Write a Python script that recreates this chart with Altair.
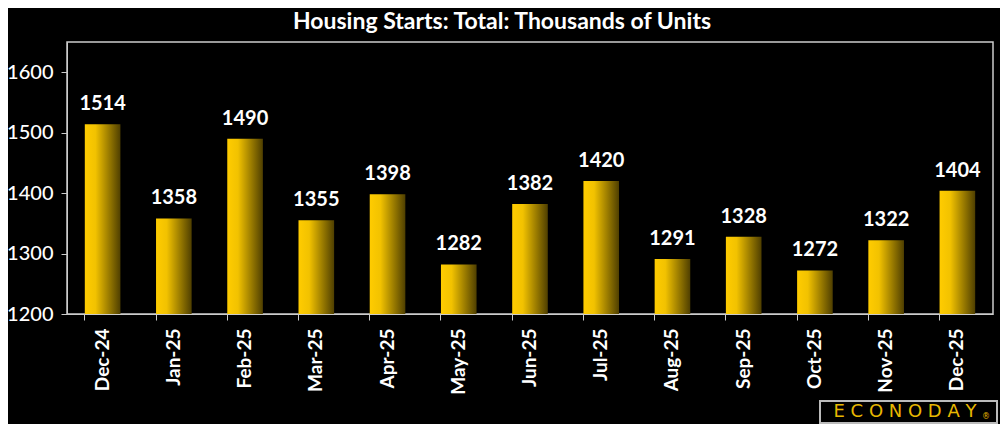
import altair as alt
import pandas as pd

months = ["Dec-24", "Jan-25", "Feb-25", "Mar-25", "Apr-25", "May-25", "Jun-25",
          "Jul-25", "Aug-25", "Sep-25", "Oct-25", "Nov-25", "Dec-25"]
starts = [1514, 1358, 1490, 1355, 1398, 1282, 1382, 1420, 1291, 1328, 1272, 1322, 1404]

df = pd.DataFrame({"month": months, "value": starts})

FONT = "Lato"

gradient = alt.Gradient(
    gradient="linear", x1=0, x2=1, y1=0, y2=0,
    stops=[
        alt.GradientStop(color="#FFCC00", offset=0),
        alt.GradientStop(color="#F2C200", offset=0.3),
        alt.GradientStop(color="#4F3F00", offset=1),
    ],
)

x = alt.X("month:N", sort=months, title=None,
          scale=alt.Scale(paddingInner=0.5, paddingOuter=0.25),
          axis=alt.Axis(labelAngle=-90, labelColor="white", labelFont=FONT,
                        labelFontSize=19, labelFontWeight="bold", labelPadding=8,
                        domainColor="#cccccc", tickColor="#cccccc", tickSize=6,
                        bandPosition=0, labelBaseline="middle", labelAlign="right"))
y = alt.Y("value:Q", title=None,
          scale=alt.Scale(domain=[1200, 1650], nice=False, zero=False),
          axis=alt.Axis(values=[1200, 1300, 1400, 1500, 1600], grid=False, format="d",
                        labelColor="white", labelFont=FONT, labelFontSize=20,
                        labelFontWeight=500, labelPadding=8, domainColor="#cccccc",
                        tickColor="#cccccc", tickSize=6))

bars = alt.Chart(df).mark_bar(color=gradient, clip=True).encode(x=x, y=y)

labels = alt.Chart(df).mark_text(
    color="white", font=FONT, fontSize=20, fontWeight="bold", dy=-20
).encode(x=alt.X("month:N", sort=months), y="value:Q", text="value:Q")

logo_box = alt.Chart(pd.DataFrame({"a": [0]})).mark_rect(
    fill="black", stroke="#bbbbbb", strokeWidth=2, clip=False
).encode(x=alt.value(753), x2=alt.value(930), y=alt.value(359), y2=alt.value(381))

logo_text = alt.Chart(pd.DataFrame({"t": ["E C O N O D A Y"]})).mark_text(
    color="#E8B800", font="DejaVu Sans", fontSize=18, fontWeight="normal", clip=False,
    baseline="middle", align="center"
).encode(x=alt.value(838), y=alt.value(370), text="t:N")

logo_reg = alt.Chart(pd.DataFrame({"t": ["®"]})).mark_text(
    color="#E8B800", font="DejaVu Sans", fontSize=8, clip=False,
    baseline="middle", align="center"
).encode(x=alt.value(919), y=alt.value(375), text="t:N")

chart = alt.layer(bars, labels, logo_box, logo_text, logo_reg).properties(
    width=926, height=272,
    background="black",
    padding={"left": 59, "top": 34, "right": 7, "bottom": 110},
    autosize=alt.AutoSizeParams(type="none"),
    title=alt.TitleParams("Housing Starts: Total: Thousands of Units", color="white",
                          font=FONT, fontSize=23, fontWeight="bold", frame="group",
                          anchor="middle", offset=8, dx=-28),
).configure_view(stroke="#cccccc", strokeWidth=1.5)

chart.save("out.html", embed_options={"renderer": "svg", "actions": False})
